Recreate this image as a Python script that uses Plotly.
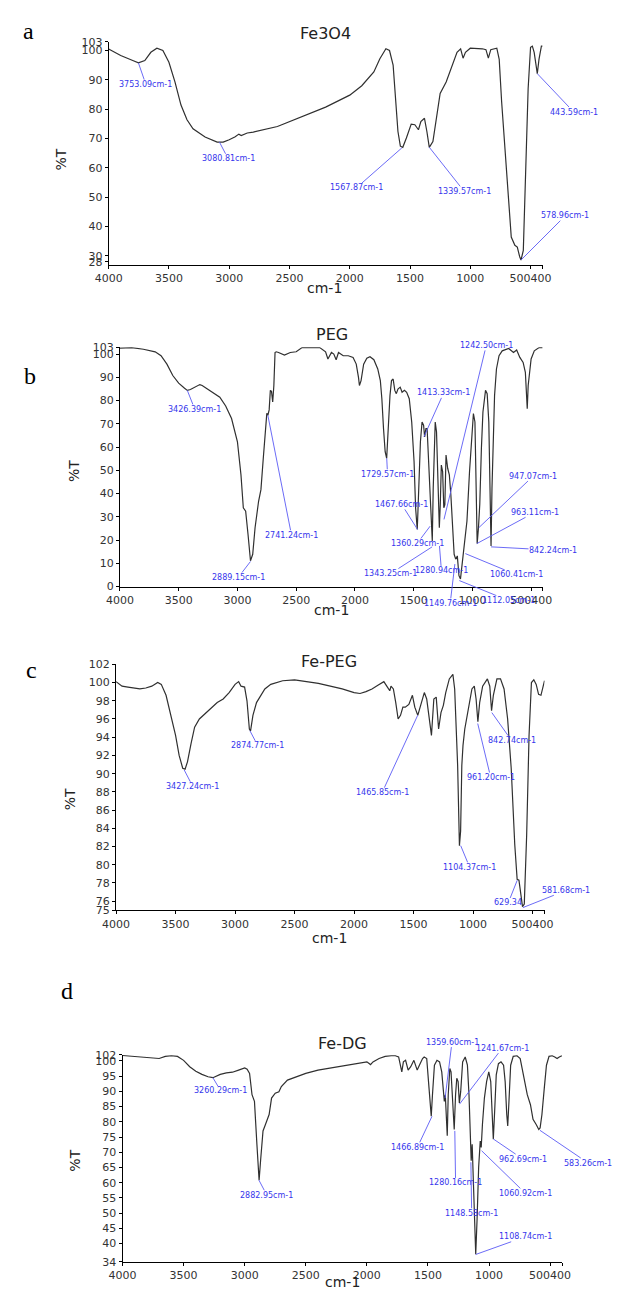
import plotly.graph_objects as go

W, H = 619, 1295

# ---------------- data (wavenumber cm-1, %T) ----------------
a_wn = [4000, 3900, 3800, 3753, 3700, 3650, 3600, 3550, 3500, 3450, 3400, 3350, 3300, 3200, 3100, 3050, 3000, 2950, 2920, 2900,
        2850, 2800, 2600, 2400, 2200, 2000, 1900, 1800, 1750, 1700, 1670, 1640, 1620, 1600, 1580, 1560, 1530, 1490, 1460, 1430,
        1410, 1380, 1360, 1340, 1310, 1280, 1250, 1200, 1150, 1110, 1080, 1060, 1040, 1000, 900, 870, 850, 830, 780, 760,
        740, 700, 660, 630, 610, 590, 579, 560, 540, 520, 500, 485, 470, 444, 430, 410, 400]
a_T = [100.5, 98.3, 96.6, 95.8, 96.6, 99.4, 100.8, 100, 96, 89.3, 81.4, 76.4, 73.3, 70.5, 68.8, 68.8, 69.6, 70.6, 71.5, 71,
       71.9, 72.2, 74.1, 77.5, 80.7, 84.8, 88, 92.7, 97.2, 100.6, 100, 95, 83.7, 72.4, 67.4, 67, 70.2, 74.9, 74.7, 73,
       75.8, 76.9, 72.4, 67, 69, 76.9, 85.4, 89.3, 94.9, 99.4, 100.6, 97.4, 99.4, 100.8, 100.6, 100.3, 97.4, 100.3, 100.8, 97,
       82.6, 58.9, 36.4, 33.6, 33, 29.7, 28.6, 31.9, 58.9, 87, 101.1, 101.5, 99.4, 92.1, 97, 101.5, 101.5]

b_wn = [4000, 3900, 3800, 3750, 3700, 3650, 3600, 3550, 3500, 3450, 3426, 3400, 3350, 3320, 3300, 3250, 3200, 3150, 3100, 3050,
        3000, 2970, 2950, 2930, 2910, 2889, 2870, 2850, 2820, 2800, 2780, 2760, 2750, 2741, 2730, 2720, 2710, 2700, 2690, 2680,
        2670, 2650, 2600, 2550, 2500, 2450, 2400, 2300, 2250, 2230, 2200, 2180, 2160, 2140, 2100,
        2057, 2016, 1989, 1970, 1962, 1948, 1926, 1899, 1872, 1839, 1806, 1784, 1771, 1757, 1743, 1730, 1716, 1702, 1689, 1675,
        1661, 1648, 1634, 1615, 1599, 1579, 1560, 1538, 1517, 1497, 1484, 1476, 1470, 1465, 1457, 1443, 1429, 1416, 1407, 1396,
        1386, 1375, 1361, 1353, 1342, 1334, 1325, 1317, 1306, 1293, 1282, 1274, 1265, 1254, 1244, 1235, 1225, 1211, 1197, 1184,
        1170, 1156, 1143, 1129, 1115, 1102, 1088, 1074, 1061, 1047, 1025, 1006, 992, 979, 965, 960, 949, 938, 924, 911,
        889, 875, 861, 851, 842, 834, 823, 812, 796, 774, 747, 692, 651, 624, 597, 569, 550, 534, 526, 515,
        501, 474, 433, 405]
b_T = [102.6, 102.8, 102.1, 101.4, 101, 99.3, 95.7, 90.8, 87.5, 85.3, 84.4, 84.8, 86.2, 86.9, 86.5, 84.8, 83.4, 81.5, 77.7, 72.3,
       62.3, 48.1, 33.9, 32.4, 22.5, 11.1, 13.9, 25.3, 36.7, 41.7, 55.2, 70.8, 74.5, 73.7, 76, 84.4, 84, 79.4, 86.5, 100.7,
       101, 100.7, 99.6, 100.7, 101, 102.8, 102.9, 102.8, 101, 97.9, 100.7, 100, 97.6, 100.7, 99.3,
       99.3, 98.6, 95.7, 90, 86.5, 88.6, 95.7, 98.2, 98.9, 97.6, 93.6, 88.6, 80.8, 68, 58, 55.2, 70.8, 82.2, 88.6, 89.3,
       84.4, 83, 85, 85.8, 83.6, 84.4, 83.6, 80.8, 70.8, 53.8, 33.9, 28.2, 24.6, 31, 45.2, 62.3, 70.8, 69.4, 64.4, 68,
       68, 56.6, 36.7, 28.2, 19.6, 42.4, 65.1, 70.8, 66.6, 42.4, 25.3, 35.3, 52.3, 49.5, 33.9, 35.3, 56.6, 50.9, 48.1, 39.5,
       25.3, 13.9, 11.8, 13.2, 4.7, 3.3, 9.7, 16.8, 21, 28.2, 49.5, 66.6, 74.4, 70.8, 31, 18.5, 25.3, 35.3, 59.5, 75.1,
       84.4, 83, 70.8, 42.4, 17.5, 42.4, 68, 82.2, 93.6, 99.3, 101.4, 102.4, 100.7, 101.8, 98.6, 96.4, 92.2, 76.5, 86.5, 90.8,
       97.9, 101.4, 102.8, 102.8]

c_wn = [4000, 3950, 3900, 3800, 3750, 3700, 3650, 3620, 3580, 3550, 3500, 3470, 3440, 3420, 3400, 3370, 3340, 3300, 3250, 3200,
        3150, 3100, 3050, 3000, 2970, 2950, 2920, 2900, 2880, 2870, 2850, 2820, 2780, 2750, 2700, 2600, 2500, 2400, 2300, 2200,
        2100, 2000, 1950, 1900, 1850, 1800, 1750, 1720, 1700, 1690, 1670, 1650, 1630, 1610, 1590, 1570, 1540, 1510, 1490, 1465,
        1440, 1410, 1390, 1370, 1350, 1330, 1310, 1290, 1270, 1250, 1230, 1200, 1170, 1155, 1140, 1130, 1115, 1105, 1095, 1085,
        1070, 1040, 1010, 990, 975, 960, 945, 920, 880, 860, 845, 830, 800, 770, 740, 710, 680, 650, 630, 615,
        600, 585, 570, 550, 530, 510, 490, 470, 450, 430, 400]
c_T = [100.1, 99.6, 99.5, 99.3, 99.4, 99.6, 100, 99.8, 98.6, 96.9, 94.2, 92, 90.6, 90.5, 91.3, 93.3, 95.1, 96, 96.6, 97.2,
       97.8, 98.2, 98.9, 99.8, 100.1, 99.6, 99.5, 98, 94.9, 94.7, 96.4, 97.8, 98.7, 99.3, 99.8, 100.2, 100.3, 100.1, 99.9, 99.6,
       99.3, 98.9, 98.8, 99, 99.3, 99.7, 100.1, 99.5, 99.1, 99.6, 99.3, 97.8, 96, 96.4, 97.3, 97.3, 97.6, 98.6, 97.3, 96.4,
       97.5, 98.9, 98.2, 96.4, 94.2, 98.2, 98.4, 94.9, 96.7, 97.5, 98.9, 100.4, 100.9, 99.3, 94.6, 90.9, 82.1, 83.7, 90.9, 93.1,
       94.9, 97.1, 99.3, 99.6, 98.2, 95.7, 97.8, 99.6, 100.4, 99.6, 96.9, 98.6, 100.4, 100.4, 99.3, 96, 90.6, 82.2, 78.4, 78.3,
       76.8, 75.4, 75.7, 83.3, 94.2, 100, 100.3, 99.8, 98.7, 98.6, 100.2]

d_wn = [4000, 3900, 3800, 3700, 3650, 3600, 3550, 3500, 3450, 3400, 3350, 3300, 3260, 3200, 3150, 3100, 3050, 3000, 2980, 2960,
        2940, 2920, 2900, 2882, 2870, 2850, 2830, 2800, 2780, 2750, 2720, 2700, 2650, 2600, 2500, 2400, 2300, 2200, 2100, 2000,
        1970, 1950, 1900, 1850, 1800, 1767, 1740, 1727, 1714, 1701, 1683, 1662, 1641, 1615, 1588, 1570, 1544, 1531, 1510, 1491,
        1478, 1473, 1463, 1447, 1426, 1405, 1387, 1374, 1366, 1358, 1347, 1342, 1334, 1321, 1311, 1295, 1285, 1274, 1264, 1253,
        1243, 1232, 1216, 1195, 1177, 1164, 1153, 1146, 1138, 1127, 1117, 1109, 1098, 1085, 1072, 1064, 1054, 1038, 1020, 1002,
        986, 973, 965, 954, 941, 923, 902, 881, 868, 855, 847, 837, 823, 802, 771, 745, 719, 687, 661, 640,
        614, 593, 582, 567, 548, 530, 509, 483, 462, 443, 425, 404]
d_T = [101.8, 101.5, 101.1, 100.8, 101.5, 101.7, 101.5, 100.2, 98.1, 96.6, 95.6, 94.8, 94.5, 95.6, 96.1, 96.3, 97, 97.7, 97.3, 95.9,
       88.9, 86.7, 72.6, 60.8, 67.2, 77, 79.1, 82.4, 87.8, 89.4, 89.9, 91.6, 93.7, 94.5, 95.9, 97, 97.7, 98.4, 99.1, 99.7,
       98.8, 99.7, 100.8, 101.5, 101.7, 101.7, 101.3, 98.6, 96.4, 99.7, 100.2, 97, 98.1, 100.2, 97, 98.6, 100.8, 101.3, 100.8, 91,
       83.5, 81.8, 88.9, 98.6, 100.2, 99.7, 96.4, 88.9, 86.7, 88.9, 78, 75.4, 88.9, 97.5, 96.4, 86.7, 77.5, 88.9, 94.3, 93.2,
       86.2, 89.9, 99.7, 101.3, 98.6, 88.9, 71.6, 67.2, 72.6, 58.6, 41.3, 36.5, 47.8, 65.1, 73.7, 71.6, 79.1, 87.8, 93.2, 96.4,
       93.2, 81.3, 74.3, 83.5, 95.4, 99.1, 99.7, 98.6, 93.2, 82.4, 78.6, 86.7, 98.6, 101.5, 101.7, 100.8, 95.4, 88.9, 85.6, 80.8,
       79.1, 77.5, 78, 82.4, 91, 98.6, 101.5, 101.7, 101.3, 100.8, 101.3, 101.7]

# peak annotations: position (wn, %T) and label text
a_pk_wn = [3753.09, 3080.81, 1567.87, 1339.57, 578.96, 443.59]
a_pk_T = [95.8, 68.8, 66.8, 67.0, 28.6, 92.1]
a_pk_txt = ["3753.09cm-1", "3080.81cm-1", "1567.87cm-1", "1339.57cm-1", "578.96cm-1", "443.59cm-1"]

b_pk_wn = [3426.39, 2889.15, 2741.24, 1729.57, 1413.33, 1242.50, 1467.66, 1360.29, 1343.25, 1280.94,
           1149.76, 1112.05, 1060.41, 947.07, 963.11, 842.24]
b_pk_T = [84.4, 10.8, 73.7, 55.2, 64.4, 28.9, 24.6, 26.0, 17.1, 17.5, 9.7, 2.6, 14.2, 25.3, 18.5, 17.1]
b_pk_txt = ["3426.39cm-1", "2889.15cm-1", "2741.24cm-1", "1729.57cm-1", "1413.33cm-1", "1242.50cm-1",
            "1467.66cm-1", "1360.29cm-1", "1343.25cm-1", "1280.94cm-1", "1149.76cm-1", "1112.05cm-1",
            "1060.41cm-1", "947.07cm-1", "963.11cm-1", "842.24cm-1"]

c_pk_wn = [3427.24, 2874.77, 1465.85, 1104.37, 961.20, 842.74, 629.34, 581.68]
c_pk_T = [90.4, 94.7, 96.4, 82.1, 95.5, 96.7, 78.3, 75.3]
c_pk_txt = ["3427.24cm-1", "2874.77cm-1", "1465.85cm-1", "1104.37cm-1", "961.20cm-1", "842.74cm-1",
            "629.34", "581.68cm-1"]

d_pk_wn = [3260.29, 2882.95, 1466.89, 1359.60, 1241.67, 1280.16, 1148.58, 1060.92, 962.69, 583.26, 1108.74]
d_pk_T = [94.5, 60.8, 81.8, 87.8, 85.8, 77.0, 66.7, 70.5, 74.3, 77.2, 36.4]
d_pk_txt = ["3260.29cm-1", "2882.95cm-1", "1466.89cm-1", "1359.60cm-1", "1241.67cm-1", "1280.16cm-1",
            "1148.58cm-1", "1060.92cm-1", "962.69cm-1", "583.26cm-1", "1108.74cm-1"]

# tick labels (the original prints the last two x labels run together as "500400")
x_ticks = [4000, 3500, 3000, 2500, 2000, 1500, 1000, 500, 400]
x_tick_txt = ["4000", "3500", "3000", "2500", "2000", "1500", "1000", "500400", ""]
a_yticks = [28, 30, 40, 50, 60, 70, 80, 90, 100, 103]
b_yticks = [0, 10, 20, 30, 40, 50, 60, 70, 80, 90, 100, 103]
c_yticks = [75, 76, 78, 80, 82, 84, 86, 88, 90, 92, 94, 96, 98, 100, 102]
d_yticks = [34, 40, 45, 50, 55, 60, 65, 70, 75, 80, 85, 90, 95, 100, 102]

# ---------------- layout (pixel geometry, label offsets) ----------------
a_off = ([7.5, 8.7, -45.5, 34.8, 44.3, 36.4], [21.7, 16.7, 40, 44, -44.3, 38.3])
b_off = ([7.5, -12.3, 23.7, 0.8, 19.8, 42.3, -15.8, -13, -41.5, 2, -4.7, 49.4, 51.4, 54.5, 58, 62],
         [19, 16, 120, 16, -44, -174, -25, 17.3, 26.7, 25, 39.3, 20, 21.3, -51.7, -31.3, 3.3])
c_off = ([8.7, 7.9, -35.6, 9, 13, 19.8, -9, 43.5], [16.7, 15, 77.3, 21.7, 54, 28, 22.7, -17.3])
d_off = ([7.9, 7.9, -14.6, 6.9, 42.7, 0.8, 0.8, 43.9, 29.4, 48.2, 49.4],
         [13.3, 15, 31, -56, -56, 52, 51, 42.7, 20, 32.7, -17.7])

panels = [
    dict(wn=a_wn, T=a_T, yr=[27, 103], yt=a_yticks, box=(98.3, 549.0, 36.1, 261.3),
         pk=(a_pk_wn, a_pk_T, a_pk_txt), off=a_off, letter="a", title="Fe3O4",
         letter_xy=(15, 25), title_xy=(324, 28), ylab_xy=(49, 155), xlab_xy=(323, 285)),
    dict(wn=b_wn, T=b_T, yr=[0, 103], yt=b_yticks, box=(110.0, 549.4, 344.6, 586.5),
         pk=(b_pk_wn, b_pk_T, b_pk_txt), off=b_off, letter="b", title="PEG",
         letter_xy=(16.6, 374), title_xy=(330, 331.7), ylab_xy=(63, 470), xlab_xy=(330, 610)),
    dict(wn=c_wn, T=c_T, yr=[75, 102], yt=c_yticks, box=(106.0, 551.0, 665.0, 913.5),
         pk=(c_pk_wn, c_pk_T, c_pk_txt), off=c_off, letter="c", title="Fe-PEG",
         letter_xy=(17.8, 670.7), title_xy=(327, 661.7), ylab_xy=(58.5, 801), xlab_xy=(328, 941.7)),
    dict(wn=d_wn, T=d_T, yr=[34, 102], yt=d_yticks, box=(112.7, 569.5, 1059.5, 1268.5),
         pk=(d_pk_wn, d_pk_T, d_pk_txt), off=d_off, letter="d", title="Fe-DG",
         letter_xy=(55.3, 995), title_xy=(340.7, 1048.3), ylab_xy=(63, 1166.7), xlab_xy=(340.7, 1288.5)),
]

FONT = "DejaVu Sans"
LABEL_BLUE = "#3535ec"
LINE_BLUE = "#5a5af5"
TICK_FONT = dict(family=FONT, size=11, color="#333333")

fig = go.Figure()
layout = dict(width=W, height=H, margin=dict(l=0, r=0, t=0, b=0),
              paper_bgcolor="white", plot_bgcolor="white", showlegend=False)
annotations = []


def px(x, y):
    return x / W, 1 - y / H


for i, p in enumerate(panels, start=1):
    sfx = "" if i == 1 else str(i)
    xa, ya = "x" + sfx, "y" + sfx
    fig.add_trace(go.Scatter(x=p["wn"], y=p["T"], mode="lines", xaxis=xa, yaxis=ya,
                             line=dict(color="#303030", width=1.2), hoverinfo="skip"))
    x0, x1, y0, y1 = p["box"]
    layout["xaxis" + sfx] = dict(domain=[x0 / W, x1 / W], range=[4000, 400], anchor=ya,
                                 tickmode="array", tickvals=x_ticks, ticktext=x_tick_txt, tickangle=0,
                                 showline=True, linecolor="black", linewidth=1, mirror=False,
                                 ticks="outside", ticklen=3, tickcolor="black", tickwidth=1,
                                 showgrid=False, zeroline=False, tickfont=TICK_FONT)
    layout["yaxis" + sfx] = dict(domain=[1 - y1 / H, 1 - y0 / H], range=p["yr"], anchor=xa,
                                 tickmode="array", tickvals=p["yt"],
                                 showline=True, linecolor="black", linewidth=1, mirror=False,
                                 ticks="outside", ticklen=3, tickcolor="black", tickwidth=1,
                                 showgrid=False, zeroline=False, tickfont=TICK_FONT)
    # peak labels with leader lines
    pw, pT, ptxt = p["pk"]
    dxs, dys = p["off"]
    for w, t, s, dx, dy in zip(pw, pT, ptxt, dxs, dys):
        annotations.append(dict(x=w, y=t, xref=xa, yref=ya, text=s, showarrow=True,
                                arrowhead=0, arrowwidth=0.9, arrowcolor=LINE_BLUE,
                                ax=dx, ay=dy, axref="pixel", ayref="pixel", standoff=0,
                                borderpad=0, font=dict(family=FONT, size=8, color=LABEL_BLUE)))
    # panel texts
    lx, ly = px(*p["letter_xy"])
    annotations.append(dict(x=lx, y=ly, xref="paper", yref="paper", text=p["letter"], showarrow=False,
                            xanchor="center", yanchor="middle",
                            font=dict(family="Liberation Serif", size=24, color="black")))
    tx, ty = px(*p["title_xy"])
    annotations.append(dict(x=tx, y=ty, xref="paper", yref="paper", text=p["title"], showarrow=False,
                            xanchor="center", yanchor="middle",
                            font=dict(family=FONT, size=16, color="#222222")))
    yx, yy = px(*p["ylab_xy"])
    annotations.append(dict(x=yx, y=yy, xref="paper", yref="paper", text="%T", showarrow=False,
                            xanchor="center", yanchor="middle", textangle=-90,
                            font=dict(family=FONT, size=14, color="#222222")))
    cx, cy = px(*p["xlab_xy"])
    annotations.append(dict(x=cx, y=cy, xref="paper", yref="paper", text="cm-1", showarrow=False,
                            xanchor="center", yanchor="middle",
                            font=dict(family=FONT, size=14, color="#222222")))

layout["annotations"] = annotations
fig.update_layout(**layout)
fig.write_html("out.html")
